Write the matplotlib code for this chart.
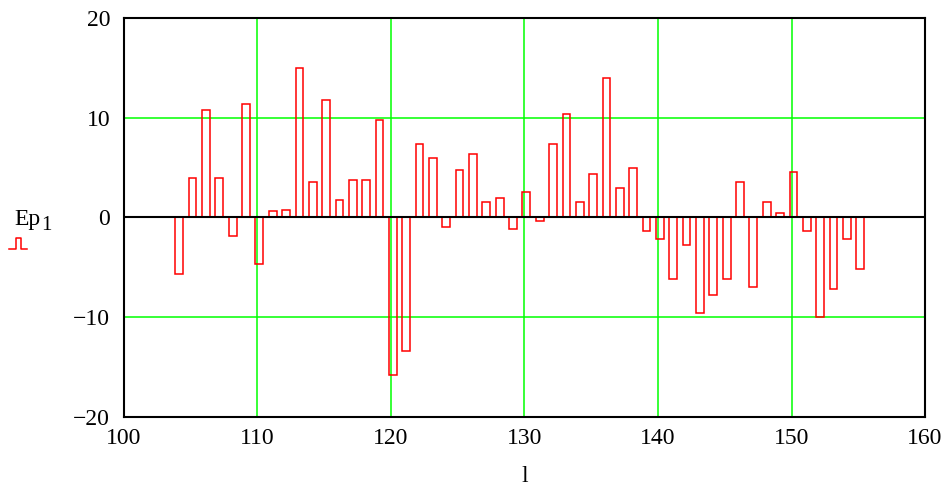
import numpy as np
import matplotlib
matplotlib.use("Agg")
import matplotlib.pyplot as plt
from matplotlib.lines import Line2D

plt.rcParams['font.family'] = ['Liberation Serif', 'DejaVu Serif']

# индексы l и значения Ep_1
l = np.arange(104, 156)
Ep = [-5.7, 4.0, 10.8, 4.0, -1.9, 11.4, -4.7, 0.6, 0.8, 15.0,
      3.6, 11.8, 1.8, 3.8, 3.8, 9.8, -15.8, -13.4, 7.4, 6.0,
      -1.0, 4.8, 6.4, 1.6, 2.0, -1.2, 2.6, -0.4, 7.4, 10.4,
      1.6, 4.4, 14.0, 3.0, 5.0, -1.4, -2.2, -6.2, -2.8, -9.6,
      -7.8, -6.2, 3.6, -7.0, 1.6, 0.4, 4.6, -1.4, -10.0, -7.2,
      -2.2, -5.2]
xticks = [100, 110, 120, 130, 140, 150, 160]
yticks = [-20, -10, 0, 10, 20]
ylabels = ['\u221220', '\u221210', '0', '10', '20']

fig = plt.figure(figsize=(9.47, 4.86), dpi=100)
ax = fig.add_axes([0.1309, 0.142, 0.8459, 0.821])

ax.bar(l - 0.15, Ep, width=0.58, align='edge', facecolor='none',
       edgecolor='#ff0000', linewidth=1.1, zorder=3)
ax.axhline(0, color='black', linewidth=1.5, zorder=4)

ax.set_xlim(100, 160)
ax.set_ylim(-20, 20)
ax.set_xticks(xticks)
ax.set_yticks(yticks)
ax.set_yticklabels(ylabels)
ax.tick_params(length=0, labelsize=17, pad=10)
ax.tick_params(axis='x', pad=8)
ax.grid(True, color='#00ff00', linewidth=1.1, zorder=1)
ax.set_axisbelow(True)
for s in ax.spines.values():
    s.set_color('black')
    s.set_linewidth(1.5)
    s.set_zorder(5)

ax.set_xlabel('l', fontsize=17, labelpad=12)

# подпись оси y (Ep с индексом 1) и значок серии
fig.text(14 / 947, 1 - 225 / 486, 'Ep', fontsize=17, ha='left', va='baseline')
fig.text(41 / 947, 1 - 230 / 486, '1', fontsize=15, ha='left', va='baseline')
ys = 1 - 249 / 486
yt = 1 - 238 / 486
xs = np.array([9, 16, 16, 21, 21, 27]) / 947
fig.add_artist(Line2D(xs, [ys, ys, yt, yt, ys, ys], color='#ff0000',
                      linewidth=1.1, transform=fig.transFigure))

fig.savefig('out.png', dpi=100)
